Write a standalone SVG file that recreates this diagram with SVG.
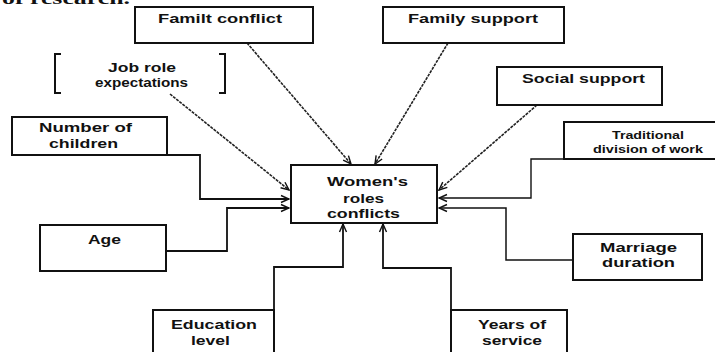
<svg xmlns="http://www.w3.org/2000/svg" width="715" height="352" viewBox="0 0 715 352">
<style>
.box{fill:#fff;stroke:#111;stroke-width:2}
.t{font-family:"Liberation Sans",Arial,sans-serif;font-weight:bold;font-size:13px;fill:#111;text-anchor:middle}
.ts{font-size:11px}
.el{fill:none;stroke:#111;stroke-width:1.8}
.dg{fill:none;stroke:#222;stroke-width:1.6;stroke-dasharray:3 1}
</style>
<defs>
<marker id="ar" markerUnits="userSpaceOnUse" markerWidth="10" markerHeight="10" viewBox="0 0 10 10" refX="9" refY="5" orient="auto">
<path d="M1,1.5 L9,5 L1,8.5" fill="none" stroke="#111" stroke-width="1.4"/>
</marker>
</defs>
<rect width="715" height="352" fill="#fff"/>
<text x="2" y="4" font-family="'Liberation Serif',serif" font-weight="bold" font-size="16" fill="#111" textLength="128" lengthAdjust="spacingAndGlyphs">of research.</text>

<g id="connectors">
<line class="dg" x1="247" y1="43" x2="351" y2="164" marker-end="url(#ar)"/>
<line class="dg" x1="448" y1="43" x2="375" y2="164" marker-end="url(#ar)"/>
<line class="dg" x1="170" y1="94" x2="289" y2="190" marker-end="url(#ar)"/>
<line class="dg" x1="537" y1="105" x2="439" y2="190" marker-end="url(#ar)"/>
<path class="el" d="M167,155 H200 V199 H289" marker-end="url(#ar)"/>
<path class="el" d="M166,251 H227 V208 H289" marker-end="url(#ar)"/>
<path class="el" style="stroke-width:1.4" d="M563,159 H531 V198 H439" marker-end="url(#ar)"/>
<path class="el" style="stroke-width:1.5" d="M573,260 H506 V208 H439" marker-end="url(#ar)"/>
<path class="el" d="M274,310 V267 H343 V224" marker-end="url(#ar)"/>
<path class="el" d="M451,310 V268 H383 V224" marker-end="url(#ar)"/>
</g>

<g id="familt-conflict">
<rect class="box" x="135" y="7" width="178" height="36"/>
<text class="t" x="220" y="23" textLength="124" lengthAdjust="spacingAndGlyphs">Familt conflict</text>
</g>
<g id="family-support">
<rect class="box" x="383" y="7" width="181" height="36"/>
<text class="t" x="473" y="23" textLength="130" lengthAdjust="spacingAndGlyphs">Family support</text>
</g>
<g id="job-role">
<path d="M61,54 H55 V93 H61 M219,54 H225 V93 H219" fill="none" stroke="#111" stroke-width="2"/>
<text class="t" x="142" y="72" textLength="68" lengthAdjust="spacingAndGlyphs">Job role</text>
<text class="t" x="141.5" y="87" textLength="93" lengthAdjust="spacingAndGlyphs">expectations</text>
</g>
<g id="social-support">
<rect class="box" x="497" y="67" width="165" height="38"/>
<text class="t" x="583.5" y="83" textLength="123" lengthAdjust="spacingAndGlyphs">Social support</text>
</g>
<g id="number-of-children">
<rect class="box" x="12" y="117" width="155" height="38"/>
<text class="t" x="85.5" y="132" textLength="93" lengthAdjust="spacingAndGlyphs">Number of</text>
<text class="t" x="83.5" y="148" textLength="69" lengthAdjust="spacingAndGlyphs">children</text>
</g>
<g id="traditional-division">
<path d="M720,122 H564 V159 H720" class="box"/>
<text class="t ts" x="648" y="139" textLength="72" lengthAdjust="spacingAndGlyphs">Traditional</text>
<text class="t ts" x="648" y="153" textLength="110" lengthAdjust="spacingAndGlyphs">division of work</text>
</g>
<g id="womens-roles-conflicts">
<rect class="box" x="291" y="165" width="146" height="58"/>
<text class="t" x="367.5" y="186" textLength="81" lengthAdjust="spacingAndGlyphs">Women's</text>
<text class="t" x="363.5" y="203" textLength="41" lengthAdjust="spacingAndGlyphs">roles</text>
<text class="t" x="363.5" y="218" textLength="73" lengthAdjust="spacingAndGlyphs">conflicts</text>
</g>
<g id="age">
<rect class="box" x="40" y="225" width="126" height="46"/>
<text class="t" x="104.5" y="244" textLength="33" lengthAdjust="spacingAndGlyphs">Age</text>
</g>
<g id="marriage-duration">
<rect class="box" x="573" y="234" width="129" height="46"/>
<text class="t" x="638.5" y="252" textLength="77" lengthAdjust="spacingAndGlyphs">Marriage</text>
<text class="t" x="638.5" y="267" textLength="73" lengthAdjust="spacingAndGlyphs">duration</text>
</g>
<g id="education-level">
<rect class="box" x="153" y="310" width="121" height="50"/>
<text class="t" x="214" y="329" textLength="86" lengthAdjust="spacingAndGlyphs">Education</text>
<text class="t" x="210.5" y="345" textLength="39" lengthAdjust="spacingAndGlyphs">level</text>
</g>
<g id="years-of-service">
<rect class="box" x="451" y="310" width="116" height="50"/>
<text class="t" x="512" y="329" textLength="68" lengthAdjust="spacingAndGlyphs">Years of</text>
<text class="t" x="512" y="345" textLength="60" lengthAdjust="spacingAndGlyphs">service</text>
</g>
</svg>
